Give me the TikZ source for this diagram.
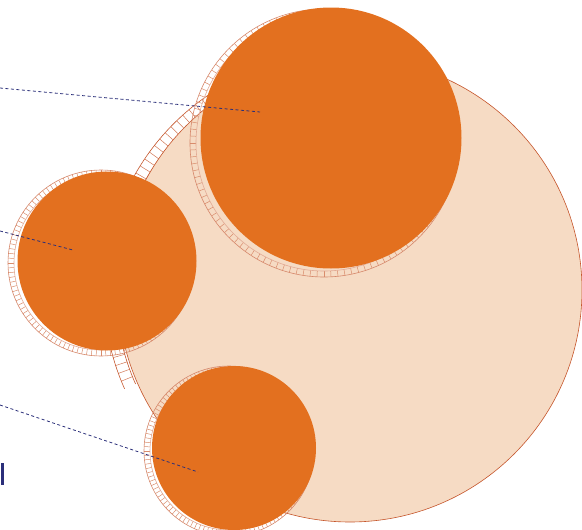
\documentclass[tikz,border=0pt]{standalone}
\usetikzlibrary{calc}
\definecolor{orng}{HTML}{E3701F}
\definecolor{peach}{HTML}{F6DBC4}
\definecolor{rim}{HTML}{C5552B}
\definecolor{hatch}{HTML}{D98C6C}
\definecolor{navy}{HTML}{2B2F7A}
\tikzset{
  leader/.style={draw=navy, dashed, dash pattern=on 3pt off 2.5pt, line width=0.8pt},
  disc/.style={fill=orng, draw=none},
  rimline/.style={draw=rim, line width=0.6pt},
  tick/.style={draw=hatch, line width=0.5pt}
}
\begin{document}
\begin{tikzpicture}[x=1pt,y=-1pt]
\useasboundingbox (0,0) rectangle (582,530);
% big circle shadow with hatched rim on left
\coordinate (bs) at (342,292);
\foreach \a in {158,160,...,236} {
  \draw[tick, draw=rim!80] ($(bs)+(\a:226)$) -- ($(bs)+(\a:238)$);
}
\draw[rimline] ($(bs)+(156:238)$) arc[start angle=156, end angle=238, radius=238];
\draw[rimline] ($(bs)+(156:226)$) arc[start angle=156, end angle=238, radius=226];
% big circle
\node[circle, fill=peach, draw=rim, line width=0.6pt, minimum size=464pt, inner sep=0pt] (big) at (350,290) {};
% shadows of orange discs
\foreach \cx/\cy/\r in {324/143/131, 101/263/90, 229/451/82} {
  \foreach \a in {0,3,...,357} {
    \draw[tick] ($(\cx,\cy)+(\a:\r-3)$) -- ($(\cx,\cy)+(\a:\r+3)$);
  }
  \draw[rimline, draw=rim!70] (\cx,\cy) circle[radius=\r+3];
  \draw[rimline, draw=rim!50] (\cx,\cy) circle[radius=\r-3];
}
% orange discs
\node[circle, disc, minimum size=261pt, inner sep=0pt] (c1) at (331,138) {};
\node[circle, disc, minimum size=179pt, inner sep=0pt] (c2) at (107,261) {};
\node[circle, disc, minimum size=164pt, inner sep=0pt] (c3) at (234,448) {};
% leader lines
\coordinate (l1) at (0,88);
\coordinate (l2) at (0,231);
\coordinate (l3) at (0,405);
\coordinate (p1) at (260,112);
\coordinate (p2) at (73,250);
\coordinate (p3) at (198,472);
\draw[leader] (l1) -- (p1);
\draw[leader] (l2) -- (p2);
\draw[leader] (l3) -- (p3);
\node[fill=navy, minimum width=2.5pt, minimum height=22pt, inner sep=0pt, anchor=west] (bar) at (1,474) {};
\end{tikzpicture}
\end{document}
